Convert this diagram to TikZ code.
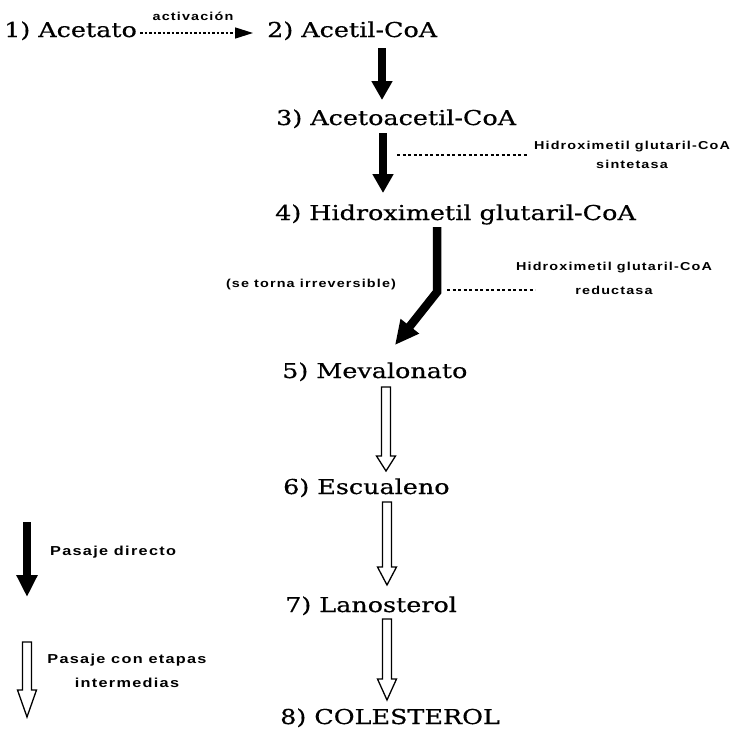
\documentclass[tikz,border=0pt]{standalone}
\usepackage{fontspec}
\setmainfont[FakeStretch=1.24,FakeBold=0.5]{DejaVu Serif}
\newfontfamily\labfont[FakeStretch=1.25,LetterSpace=10]{Liberation Sans}
\usetikzlibrary{arrows.meta,calc}

% open (hollow) downward arrow: #1 top, #2 tip, #3 head length
\newcommand{\hollowdown}[3]{%
  \draw[hollow] let \p1=(#1), \p2=(#2) in
    (\x1-4.5pt,\y1) -- (\x1+4.5pt,\y1) -- (\x1+4.5pt,\y2+#3)
    -- (\x1+9.5pt,\y2+#3) -- (\x1,\y2) -- (\x1-9.5pt,\y2+#3)
    -- (\x1-4.5pt,\y2+#3) -- cycle;}

\tikzset{
  stage/.style={font=\fontsize{20.5}{24}\selectfont, inner sep=0pt, anchor=base west},
  enzyme/.style={font=\labfont\bfseries\fontsize{11.5}{19}\selectfont, inner sep=0pt, align=center},
  legendtext/.style={font=\labfont\bfseries\fontsize{13}{24}\selectfont, inner sep=0pt, align=center},
  thickarrow/.style={line width=8.5pt, line join=miter, -{Triangle[length=19pt,width=20pt]}},
  dashlink/.style={line width=1.4pt, dash pattern=on 3pt off 2.5pt},
  dotlink/.style={line width=1.4pt, dash pattern=on 2.5pt off 2pt},
  hollow/.style={line width=1.3pt, fill=white, line join=miter}
}

\begin{document}
\begin{tikzpicture}[x=1pt,y=-1pt]
\useasboundingbox (0,0) rectangle (738,728);

% pathway stages
\node[stage] (n1) at (4,37)   {1) Acetato};
\node[stage] (n2) at (267,37) {2) Acetil-CoA};
\node[stage] (n3) at (276,125) {3) Acetoacetil-CoA};
\node[stage] (n4) at (275,220) {4) Hidroximetil glutaril-CoA};
\node[stage] (n5) at (282,378) {5) Mevalonato};
\node[stage] (n6) at (283,494) {6) Escualeno};
\node[stage] (n7) at (285,612) {7) Lanosterol};
\node[stage] (n8) at (280,724) {8) COLESTEROL};

% enzymes and notes
\node[enzyme] (act) at (193,16) {activación};
\node[enzyme] (sint) at (632,155) {Hidroximetil glutaril-CoA\\sintetasa};
\node[enzyme, font=\labfont\bfseries\fontsize{11.5}{24}\selectfont] (red) at (614,278)
  {Hidroximetil glutaril-CoA\\reductasa};
\node[enzyme] (irr) at (311,285) {(se torna irreversible)};

% activation step
\coordinate (d1) at ($(n1.base east)+(3,-4)$);
\coordinate (d2) at ($(n2.base west)+(-14,-4)$);
\draw[dotlink, -{Triangle[length=18pt,width=11pt]}] (d1) -- (d2);

% direct steps
\coordinate (a1) at (382,48);  \coordinate (a2) at (382,100);
\coordinate (b1) at (383,133); \coordinate (b2) at (383,193);
\draw[thickarrow] (a1) -- (a2);
\draw[thickarrow] (b1) -- (b2);
\coordinate (s1a) at (397,155); \coordinate (s1b) at (527,155);
\draw[dashlink] (s1a) -- (s1b);

% irreversible step
\coordinate (c1) at (437,227);
\coordinate (bend) at (437,292);
\coordinate (c3) at (395,345);
\draw[thickarrow, -{Triangle[length=24pt,width=22pt]}] (c1) -- (bend) -- (c3);
\coordinate (s2a) at (447,290); \coordinate (s2b) at (535,290);
\draw[dashlink] (s2a) -- (s2b);

% steps with intermediates
\coordinate (h1) at (386,387); \coordinate (h1t) at (386,471);
\coordinate (h2) at (387,502); \coordinate (h2t) at (387,585);
\coordinate (h3) at (387,619); \coordinate (h3t) at (387,700);
\hollowdown{h1}{h1t}{15pt}
\hollowdown{h2}{h2t}{18pt}
\hollowdown{h3}{h3t}{21pt}

% legend
\coordinate (l1) at (27,522); \coordinate (l1t) at (27,597);
\draw[thickarrow, -{Triangle[length=22pt,width=20pt]}] (l1) -- (l1t);
\node[legendtext, anchor=west] (ld) at (50,552) {Pasaje directo};
\coordinate (l2) at (27,642); \coordinate (l2t) at (27,717);
\hollowdown{l2}{l2t}{27pt}
\node[legendtext] (li) at (127,671) {Pasaje con etapas\\intermedias};
\end{tikzpicture}
\end{document}
